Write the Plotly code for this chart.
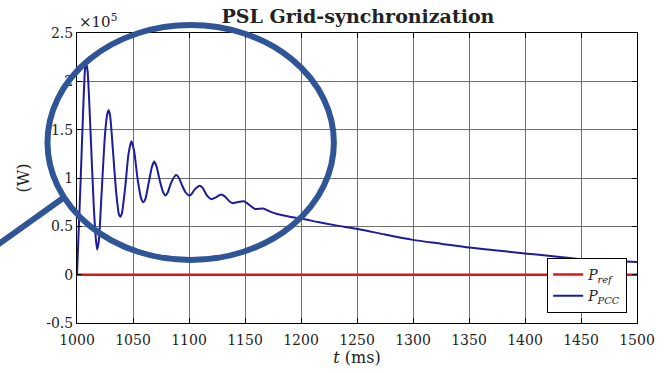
import plotly.graph_objects as go

# Time axis (ms) and active power at the PCC (W)
t_ms = [1000, 1003, 1005.5, 1007, 1008, 1009.5, 1012, 1015, 1017, 1018, 1019.5,
        1022, 1025, 1027, 1028.2, 1029.5, 1032, 1035, 1037.5, 1038.7, 1040,
        1043, 1046, 1048.6, 1051, 1054, 1057, 1059, 1061, 1064, 1067, 1069,
        1071, 1074, 1077, 1079, 1081, 1084, 1088.5, 1091, 1094, 1097, 1100,
        1102, 1105, 1109.5, 1112, 1116, 1120, 1124, 1128.5, 1132, 1136, 1139,
        1143, 1149, 1153, 1159, 1166, 1172, 1178, 1190, 1202, 1215, 1231,
        1252, 1275, 1300, 1325, 1350, 1375, 1400, 1425, 1450, 1475, 1500]
p_pcc = [0, 90000, 170000, 210000, 220000, 210000, 150000, 70000, 35000, 26000, 35000,
         85000, 145000, 166000, 170000, 165000, 130000, 85000, 62000, 60000, 63000,
         90000, 125000, 138000, 128000, 100000, 80000, 75000, 78000, 95000, 112000, 117000,
         112000, 97000, 85000, 82000, 85000, 95000, 103000, 100000, 92000, 85000, 82000,
         83000, 88000, 92000, 90000, 82000, 78000, 80000, 83000, 81000, 76000, 74000,
         75000, 76000, 73000, 68000, 68500, 65500, 63000, 60000, 57600, 54500, 51000,
         47000, 41500, 36000, 32000, 28000, 25000, 22000, 19000, 16000, 14500, 13000]

# Reference power
t_ref = [1000, 1500]
p_ref = [0, 0]

x_ticks = [1000, 1050, 1100, 1150, 1200, 1250, 1300, 1350, 1400, 1450, 1500]
y_ticks = [-50000, 0, 50000, 100000, 150000, 200000, 250000]
y_tick_labels = ["-0.5", "0", "0.5", "1", "1.5", "2", "2.5"]

SERIF = "'DejaVu Serif', serif"
INK = "#222222"

fig = go.Figure()
fig.add_trace(go.Scatter(x=t_ref, y=p_ref, mode="lines",
                         line=dict(color="#d7191c", width=2.5),
                         name="<i>P</i><sub><i>ref</i></sub>"))
fig.add_trace(go.Scatter(x=t_ms, y=p_pcc, mode="lines",
                         line=dict(color="#1c1c9c", width=2, shape="spline", smoothing=0.6),
                         name="<i>P</i><sub><i>PCC</i></sub>"))

axis_common = dict(showline=True, linecolor="black", linewidth=1, mirror="allticks",
                   ticks="inside", ticklen=5, tickcolor="black",
                   showgrid=True, gridcolor="#6f6f6f", gridwidth=1,
                   zeroline=False, tickfont=dict(family=SERIF, size=14, color=INK))

fig.update_xaxes(range=[1000, 1500], tickvals=x_ticks, ticklabelstandoff=4,
                 title=dict(text="<i>t</i> (ms)", font=dict(family=SERIF, size=16, color=INK),
                            standoff=2),
                 **axis_common)
fig.update_yaxes(range=[-50000, 250000], tickvals=y_ticks, ticktext=y_tick_labels,
                 title=dict(text="(W)", font=dict(family=SERIF, size=16, color=INK),
                            standoff=12),
                 **axis_common)

L, R, T, B = 77, 21, 33, 50
W, H = 667, 373
pw, ph = W - L - R, H - T - B


def px_x(x):
    return (x - L) / pw


def px_y(y):
    return (H - B - y) / ph


ring = "#2f5597"
fig.add_shape(type="circle", xref="paper", yref="paper",
              x0=px_x(47), x1=px_x(338), y0=px_y(260), y1=px_y(25),
              line=dict(color=ring, width=6), layer="above")
fig.add_shape(type="line", xref="paper", yref="paper",
              x0=px_x(63), y0=px_y(198), x1=px_x(-4), y1=px_y(245),
              line=dict(color=ring, width=6), layer="above")

fig.add_annotation(text="×10<sup>5</sup>", xref="paper", yref="paper",
                   x=px_x(77), y=px_y(21), xanchor="left", yanchor="middle",
                   showarrow=False, font=dict(family=SERIF, size=15, color=INK))

fig.update_layout(
    width=W, height=H,
    margin=dict(l=L, r=R, t=T, b=B),
    paper_bgcolor="white", plot_bgcolor="white",
    title=dict(text="<b>PSL Grid-synchronization</b>", x=358 / W, xanchor="center",
               y=1 - 16 / H, yanchor="middle",
               font=dict(family=SERIF, size=19, color=INK)),
    legend=dict(x=px_x(636), y=px_y(313), xanchor="right", yanchor="bottom",
                bordercolor="black", borderwidth=1, bgcolor="white",
                font=dict(family=SERIF, size=14, color=INK),
                tracegroupgap=0, itemwidth=30),
    showlegend=True,
)

fig.write_html("out.html")
